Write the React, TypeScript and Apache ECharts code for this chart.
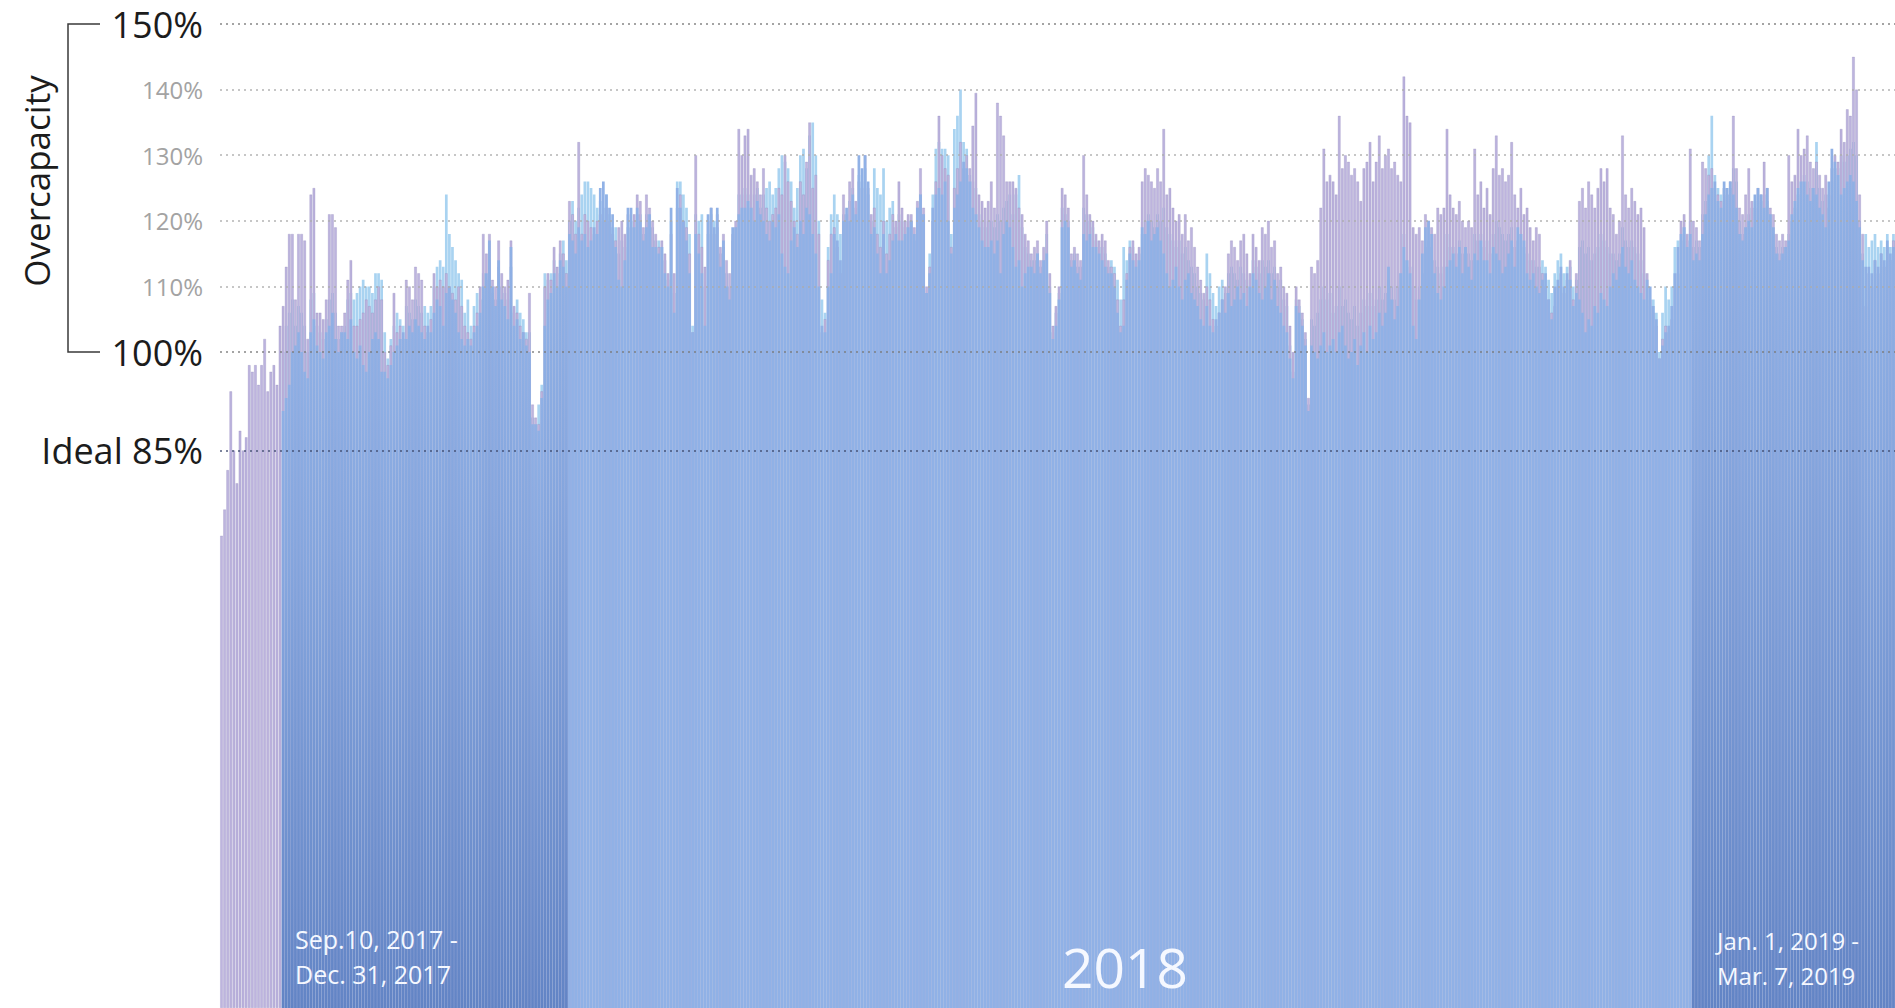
import React, { useEffect, useRef } from "react";
import * as echarts from "echarts";

// ---- categories: one bar per day, Sep 10, 2017 - Mar 7, 2019 ----
const FIRST_DAY_UTC = Date.UTC(2017, 8, 10);
const DAY_COUNT = 544;
const categories: string[] = Array.from({ length: DAY_COUNT }, (_, i) =>
  new Date(FIRST_DAY_UTC + i * 86400000).toISOString().slice(0, 10)
);
const start2018 = "2018-01-01";
const start2019 = "2019-01-01";
// cyan & blue series begin on this day (purple only before it)
const secondaryStart = "2017-09-30";

// ---- y axis labels ----
const yLabelValues = [85, 100, 110, 120, 130, 140, 150];
const bigLabels = [85, 100, 150];

// ---- series values (%) ----
const purpleValues = [
  72, 76, 82, 94, 85, 80, 88, 85, 87, 98,
  97, 98, 95, 98, 102, 94, 97, 98, 95, 104,
  107, 113, 118, 118, 108, 118, 118, 117, 102, 124,
  125, 106, 106, 105, 108, 121, 121, 119, 104, 104,
  106, 111, 114, 104, 104, 105, 106, 108, 107, 106,
  108, 110, 108, 100, 98, 101, 109, 103, 104, 102,
  111, 110, 108, 113, 112, 111, 104, 103, 105, 112,
  110, 111, 110, 112, 110, 109, 108, 110, 107, 104,
  103, 102, 104, 106, 110, 118, 115, 118, 111, 110,
  117, 112, 110, 111, 117, 107, 106, 104, 103, 102,
  109, 92, 90, 89, 94, 110, 112, 111, 116, 113,
  117, 115, 112, 123, 121, 118, 132, 118, 121, 120,
  119, 118, 120, 121, 120, 122, 120, 118, 117, 119,
  120, 118, 121, 119, 121, 124, 123, 119, 124, 122,
  120, 118, 116, 117, 115, 112, 118, 112, 122, 124,
  120, 119, 115, 103, 130, 118, 116, 113, 120, 122,
  118, 121, 116, 118, 114, 112, 118, 120, 134, 130,
  133, 134, 127, 128, 126, 124, 128, 122, 120, 121,
  122, 125, 124, 130, 126, 123, 120, 118, 126, 124,
  129, 135, 125, 127, 118, 103, 105, 114, 118, 119,
  116, 112, 124, 121, 126, 128, 123, 126, 125, 130,
  125, 121, 122, 118, 116, 120, 115, 118, 121, 120,
  126, 122, 120, 121, 121, 119, 123, 128, 122, 110,
  113, 120, 126, 136, 130, 128, 127, 116, 125, 128,
  132, 128, 130, 128, 134.5, 139.5, 124, 123, 122, 123,
  126, 122, 138, 136, 133, 126, 126, 126, 125, 122,
  121, 118, 117, 115, 116, 117, 114, 116, 120, 112,
  104, 107, 110, 125, 124, 122, 115, 116, 115, 114,
  130, 124, 121, 120, 118, 117, 118, 117, 114, 113,
  112, 108, 104, 108, 112, 116, 117, 115, 116, 126,
  128, 127, 126, 125, 128, 126, 134, 124, 125, 122,
  120, 121, 118, 121, 117, 119, 116, 113, 111, 109,
  110, 108, 105, 104, 106, 108, 110, 115, 117, 116,
  114, 117, 118, 115, 112, 118, 116, 114, 119, 118,
  120, 116, 117, 112, 113, 110, 109, 104, 100, 110,
  108, 106, 103, 93, 113, 112, 114, 122, 131, 126,
  127, 126, 124, 136, 128, 130, 129, 127, 128, 126,
  123, 128, 129, 132, 126, 129, 133, 128, 130, 131,
  128, 129, 127, 126, 142, 136, 135, 119, 118, 119,
  117, 121, 120, 119, 118, 122, 121, 122, 134, 124,
  122, 121, 123, 120, 119, 120, 119, 131, 124, 126,
  122, 125, 121, 128, 133, 127, 128, 126, 127, 132,
  124, 122, 125, 121, 122, 119, 117, 119, 118, 112,
  110, 108, 106, 107, 110, 112, 109, 111, 114, 108,
  112, 123, 125, 122, 126, 124, 122, 125, 128, 126,
  128, 122, 121, 118, 120, 133, 124, 122, 125, 123,
  121, 122, 119, 112, 108, 106, 104, 99, 102, 104,
  103, 105, 110, 112, 120, 121, 118, 131, 120, 119,
  117, 129, 128, 127, 128, 125, 124, 123, 125, 124,
  126, 136, 128, 122, 121, 124, 128, 123, 122, 125,
  124, 129, 125, 122, 121, 118, 117, 118, 117, 130,
  126, 127, 134, 130, 131, 133, 129, 128, 129, 127,
  125, 127, 124, 128, 130, 129, 134, 132, 137, 136,
  145, 140, 124, 118, 107, 112, 110, 114, 112, 115,
  113, 116, 114, 117,
];

// from Sep 30, 2017
const cyanValues = [
  100, 104, 106, 108, 104, 107, 106, 104, 100, 108,
  109, 104, 103, 102, 105, 108, 109, 106, 102, 103,
  104, 108, 109, 108, 109, 110, 111, 110, 110, 109,
  112, 112, 111, 103, 99, 102, 104, 106, 105, 104,
  107, 106, 105, 108, 107, 106, 107, 106, 107, 110,
  113, 114, 113, 124, 118, 116, 114, 112, 111, 106,
  108, 104, 107, 109, 108, 112, 111, 114, 109, 108,
  113, 110, 109, 108, 113, 106, 108, 106, 105, 103,
  103, 90, 89, 92, 95, 112, 111, 112, 114, 112,
  115, 117, 114, 120, 123, 120, 122, 124, 126, 126,
  125, 124, 122, 123, 122, 124, 121, 119, 119, 115,
  117, 116, 119, 120, 120, 121, 121, 118, 121, 120,
  119, 117, 117, 116, 114, 111, 120, 109, 126, 126,
  124, 122, 118, 104, 121, 120, 121, 110, 118, 121,
  120, 119, 115, 116, 112, 110, 117, 119, 124, 124,
  125, 124, 122, 124, 125, 122, 124, 125, 126, 124,
  125, 128, 130, 129, 128, 126, 122, 125, 130, 131,
  128, 133, 135, 130, 120, 108, 106, 116, 121, 124,
  121, 118, 121, 120, 123, 125, 122, 127, 126, 128,
  124, 120, 128, 125, 124, 128, 120, 122, 123, 119,
  121, 120, 119, 120, 120, 117, 122, 124, 121, 109,
  115, 124, 131, 132, 131, 131, 130, 118, 134, 136,
  140, 132, 131, 127, 126, 125, 121, 120, 119, 120,
  120, 119, 121, 120, 122, 123, 124, 121, 124, 127,
  119, 116, 115, 114, 114, 115, 113, 114, 118, 110,
  103, 106, 109, 122, 121, 120, 114, 115, 113, 113,
  122, 121, 120, 119, 117, 116, 116, 115, 113, 114,
  113, 111, 108, 116, 114, 117, 116, 114, 115, 118,
  120, 121, 120, 119, 121, 120, 122, 119, 118, 117,
  116, 117, 115, 116, 114, 113, 112, 110, 109, 108,
  115, 112, 109, 107, 110, 111, 109, 112, 113, 112,
  111, 113, 112, 111, 110, 114, 113, 112, 114, 113,
  114, 112, 113, 110, 111, 108, 107, 101, 97, 108,
  107, 105, 102, 92, 105, 104, 106, 108, 110, 108,
  109, 106, 107, 110, 107, 108, 106, 105, 107, 104,
  106, 108, 107, 109, 107, 108, 110, 108, 109, 111,
  110, 108, 110, 112, 118, 114, 113, 110, 108, 110,
  112, 116, 117, 116, 114, 113, 112, 113, 118, 116,
  116, 115, 117, 115, 116, 115, 114, 118, 117, 118,
  116, 117, 115, 118, 120, 119, 118, 117, 118, 119,
  116, 117, 118, 116, 115, 114, 114, 113, 113, 114,
  113, 111, 109, 112, 114, 115, 112, 113, 113, 110,
  111, 116, 117, 115, 116, 114, 115, 116, 118, 117,
  116, 115, 115, 114, 115, 119, 117, 116, 117, 116,
  115, 114, 112, 110, 107, 108, 106, 100, 106, 110,
  108, 110, 116, 117, 117, 119, 117, 120, 116, 117,
  116, 121, 123, 130, 136, 127, 125, 124, 125, 124,
  125, 128, 126, 120, 118, 119, 121, 122, 123, 124,
  123, 124, 123, 121, 118, 116, 115, 116, 116, 118,
  120, 122, 124, 126, 127, 126, 125, 124, 132, 125,
  123, 124, 122, 126, 128, 128, 130, 129, 130, 131,
  132, 130, 120, 115, 118, 116, 117, 118, 116, 117,
  116, 118, 116, 118,
];

// from Sep 30, 2017
const blueValues = [
  91, 93, 95, 100, 101, 103, 100, 97, 96, 103,
  105, 101, 100, 99, 103, 104, 106, 102, 100, 103,
  103, 102, 105, 100, 99, 101, 98, 97, 100, 102,
  103, 102, 97, 97, 96, 98, 100, 101, 102, 103,
  102, 104, 103, 105, 104, 103, 102, 104, 103, 106,
  108, 107, 104, 109, 110, 108, 106, 103, 102, 101,
  102, 101, 103, 104, 106, 110, 112, 117, 110, 107,
  114, 108, 107, 105, 116, 104, 105, 102, 103, 101,
  100, 89, 89, 88, 93, 104, 108, 109, 112, 110,
  114, 113, 110, 118, 117, 115, 119, 117, 118, 116,
  117, 119, 118, 125, 126, 124, 122, 121, 116, 111,
  110, 114, 122, 122, 119, 122, 120, 117, 119, 121,
  116, 116, 115, 116, 112, 110, 122, 106, 125, 122,
  120, 117, 112, 103, 118, 115, 112, 104, 121, 122,
  119, 122, 113, 117, 110, 108, 119, 119, 121, 122,
  122, 123, 122, 120, 123, 121, 120, 118, 117, 120,
  119, 121, 115, 113, 112, 117, 119, 116, 120, 118,
  122, 121, 118, 115, 110, 104, 103, 110, 112, 118,
  117, 114, 120, 122, 120, 124, 121, 130, 128, 130,
  126, 118, 119, 115, 112, 118, 112, 114, 117, 118,
  117, 117, 118, 119, 120, 118, 122, 124, 121, 109,
  112, 122, 124, 125, 124, 126, 120, 115, 122, 124,
  126, 129, 128, 126, 122, 121, 119, 117, 116, 116,
  117, 115, 117, 112, 118, 120, 119, 116, 113, 114,
  110, 112, 113, 113, 112, 115, 112, 114, 115, 109,
  102, 104, 108, 119, 120, 119, 113, 114, 112, 111,
  118, 117, 118, 116, 116, 115, 114, 113, 112, 112,
  110, 106, 103, 104, 111, 115, 114, 113, 114, 119,
  118, 120, 117, 118, 119, 117, 115, 112, 110, 111,
  113, 110, 108, 111, 112, 109, 108, 107, 105, 104,
  107, 104, 103, 105, 106, 108, 106, 109, 107, 108,
  110, 108, 109, 107, 110, 112, 111, 109, 108, 110,
  112, 108, 111, 107, 106, 104, 103, 99, 96, 107,
  106, 104, 101, 91, 101, 100, 99, 101, 103, 100,
  101, 102, 100, 103, 104, 101, 99, 100, 102, 98,
  101, 103, 100, 104, 102, 103, 106, 104, 106, 113,
  108, 105, 107, 112, 116, 114, 112, 104, 102, 108,
  115, 119, 120, 118, 112, 109, 108, 110, 113, 114,
  115, 113, 116, 112, 116, 113, 111, 115, 114, 117,
  114, 114, 112, 116, 115, 114, 112, 113, 115, 117,
  113, 119, 118, 117, 112, 111, 112, 110, 109, 111,
  112, 108, 105, 110, 111, 113, 110, 112, 111, 107,
  109, 108, 106, 103, 105, 104, 107, 106, 109, 108,
  107, 110, 112, 111, 113, 116, 113, 112, 114, 111,
  110, 109, 108, 111, 110, 107, 105, 99, 101, 103,
  104, 107, 112, 116, 118, 119, 116, 118, 114, 115,
  114, 118, 121, 124, 125, 126, 123, 122, 126, 125,
  126, 124, 122, 118, 117, 119, 120, 119, 124, 125,
  124, 122, 125, 121, 119, 115, 114, 115, 116, 117,
  121, 123, 125, 126, 126, 124, 123, 125, 124, 122,
  121, 119, 126, 131, 129, 127, 124, 125, 126, 127,
  126, 123, 119, 114, 113, 113, 112, 114, 113, 115,
  114, 117, 115, 116,
];

const COLOR_PURPLE = "#bdb4de";
const COLOR_CYAN = "#a9d3f1";
const COLOR_BLUE = "#90b1e6";
const FONT = "Open Sans";

export default function App() {
  const ref = useRef<HTMLDivElement>(null);

  useEffect(() => {
    document.body.style.margin = "0";
    const el = ref.current;
    if (!el) return;
    const chart = echarts.init(el, undefined, { renderer: "svg" });

    const i2018 = categories.indexOf(start2018);
    const i2019 = categories.indexOf(start2019);
    const iSec = categories.indexOf(secondaryStart);

    const darkGradient = new echarts.graphic.LinearGradient(0, 0, 0, 1, [
      { offset: 0, color: "#8fb0e5" },
      { offset: 0.3, color: "#85a6de" },
      { offset: 1, color: "#6284c5" },
    ]);

    const cyanData = categories.map((_, i) =>
      i < iSec ? "-" : cyanValues[i - iSec]
    );
    const blueData = categories.map((_, i) => {
      if (i < iSec) return "-";
      const v = blueValues[i - iSec];
      if (i < i2018 || i >= i2019) {
        return { value: v, itemStyle: { color: darkGradient } };
      }
      return v;
    });

    const lineColor = (v: number) =>
      v === 85 ? "#3f4a6e" : v === 100 || v === 150 ? "#7a7a7a" : "#ababab";

    const option: any = {
      animation: false,
      backgroundColor: "#ffffff",
      grid: { left: 220, top: 24, width: 1686, height: 993, containLabel: false },
      xAxis: {
        type: "category",
        data: categories,
        show: false,
      },
      yAxis: {
        type: "value",
        min: 0,
        max: 150,
        interval: 5,
        splitLine: { show: false },
        axisLine: { show: false },
        axisTick: { show: false },
        axisLabel: {
          margin: 17,
          fontFamily: FONT,
          formatter: (v: number) => {
            if (!yLabelValues.includes(v)) return "";
            if (v === 85) return "{big|Ideal 85%}";
            if (bigLabels.includes(v)) return "{big|" + v + "%}";
            return "{small|" + v + "%}";
          },
          rich: {
            big: { fontSize: 36, color: "#1c1c1c", fontFamily: FONT },
            small: { fontSize: 24, color: "#a3a3a3", fontFamily: FONT },
          },
        },
      },
      series: [
        {
          name: "cyan",
          type: "bar",
          data: cyanData,
          barGap: "-100%",
          barCategoryGap: "12%",
          itemStyle: { color: COLOR_CYAN },
          silent: true,
        },
        {
          name: "purple",
          type: "bar",
          data: purpleValues,
          barGap: "-100%",
          barCategoryGap: "12%",
          itemStyle: {
            color: COLOR_PURPLE,
            borderColor: "rgba(125,115,175,0.45)",
            borderWidth: 0.5,
          },
          silent: true,
        },
        {
          name: "blue",
          type: "bar",
          data: blueData,
          barGap: "-100%",
          barCategoryGap: "12%",
          itemStyle: { color: COLOR_BLUE },
          silent: true,
          markLine: {
            silent: true,
            symbol: ["none", "none"],
            label: { show: false },
            data: yLabelValues.map((v) => ({
              yAxis: v,
              lineStyle: {
                color: lineColor(v),
                width: 1.6,
                type: [2, 4],
                opacity: 0.9,
              },
            })),
          },
        },
      ],
    };
    chart.setOption(option);

    const y150 = chart.convertToPixel({ yAxisIndex: 0 }, 150) as number;
    const y100 = chart.convertToPixel({ yAxisIndex: 0 }, 100) as number;

    const whiteText = (text: string, x: number, y: number, size: number, align = "left") => ({
      type: "text",
      z: 100,
      x,
      y,
      style: {
        text,
        fontFamily: FONT,
        fontSize: size,
        fill: "#f5f8ff",
        align,
        verticalAlign: "middle",
      },
    });

    chart.setOption({
      graphic: [
        {
          type: "polyline",
          z: 100,
          shape: {
            points: [
              [100, y150],
              [68, y150],
              [68, y100],
              [100, y100],
            ],
          },
          style: { stroke: "#3a3a3a", lineWidth: 1.5, fill: null },
        },
        {
          type: "text",
          z: 100,
          x: 36,
          y: 181,
          rotation: Math.PI / 2,
          style: {
            text: "Overcapacity",
            fontFamily: FONT,
            fontSize: 35,
            fill: "#1c1c1c",
            align: "center",
            verticalAlign: "middle",
          },
        },
        whiteText("Sep.10, 2017 -", 295, 939, 25),
        whiteText("Dec. 31, 2017", 295, 974, 25),
        whiteText("2018", 1125, 966, 55, "center"),
        whiteText("Jan. 1, 2019 -", 1717, 940, 24),
        whiteText("Mar. 7, 2019", 1717, 975, 24),
      ],
    });

    return () => {
      chart.dispose();
    };
  }, []);

  return (
    <div
      ref={ref}
      style={{ position: "absolute", left: 0, top: 0, width: 1895, height: 1008 }}
    />
  );
}
